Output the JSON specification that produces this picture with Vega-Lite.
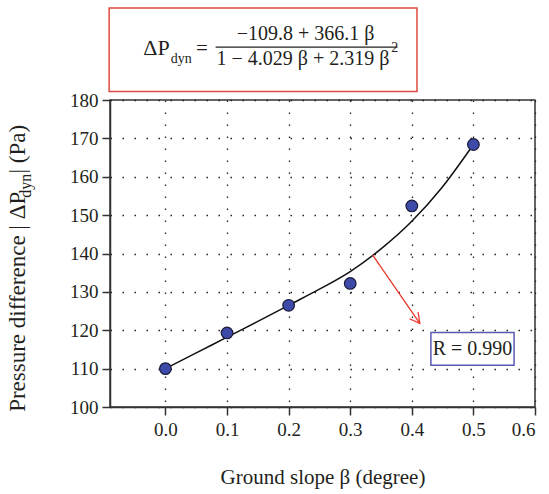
{
  "$schema": "https://vega.github.io/schema/vega-lite/v6.json",
  "width": 425,
  "height": 307,
  "autosize": {"type": "none"},
  "padding": {"left": 110, "top": 100, "right": 14, "bottom": 87},
  "background": "white",
  "config": {
    "view": {"stroke": "#333333", "strokeWidth": 1.5},
    "font": "Liberation Serif"
  },
  "datasets": {
    "points": [
      {"x": 0.0, "y": 110.0},
      {"x": 0.1, "y": 119.3},
      {"x": 0.2, "y": 126.5},
      {"x": 0.3, "y": 132.2},
      {"x": 0.4, "y": 152.4},
      {"x": 0.5, "y": 168.4}
    ],
    "curve": [
      {"x": 0.0, "y": 110.0},
      {"x": 0.05, "y": 114.1},
      {"x": 0.1, "y": 118.2},
      {"x": 0.15, "y": 122.3},
      {"x": 0.2, "y": 126.5},
      {"x": 0.25, "y": 130.7},
      {"x": 0.3, "y": 135.3},
      {"x": 0.35, "y": 141.2},
      {"x": 0.4, "y": 148.4},
      {"x": 0.45, "y": 157.4},
      {"x": 0.5, "y": 168.4}
    ]
  },
  "encoding": {
    "x": {
      "field": "x",
      "type": "quantitative",
      "scale": {"domain": [-0.09, 0.6], "nice": false, "zero": false},
      "axis": {
        "values": [0, 0.1, 0.2, 0.3, 0.4, 0.5, 0.6],
        "format": ".1f",
        "grid": true,
        "gridDash": [1.5, 10.5],
        "gridColor": "#222222",
        "gridWidth": 1.3,
        "domainColor": "#333333",
        "domainWidth": 1.5,
        "tickSize": 8,
        "tickColor": "#333333",
        "tickWidth": 1.5,
        "labelFont": "Liberation Serif",
        "labelFontSize": 19,
        "labelColor": "#231f20",
        "labelPadding": 5,
        "title": "Ground slope β (degree)",
        "titleFont": "Liberation Serif",
        "titleFontSize": 21,
        "titleFontWeight": "normal",
        "titleColor": "#231f20",
        "titlePadding": 27
      }
    },
    "y": {
      "field": "y",
      "type": "quantitative",
      "scale": {"domain": [100, 180], "nice": false, "zero": false},
      "axis": {
        "values": [100, 110, 120, 130, 140, 150, 160, 170, 180],
        "grid": true,
        "gridDash": [1.5, 10.5],
        "gridColor": "#222222",
        "gridWidth": 1.3,
        "domainColor": "#333333",
        "domainWidth": 1.5,
        "tickSize": 8,
        "tickColor": "#333333",
        "tickWidth": 1.5,
        "labelFont": "Liberation Serif",
        "labelFontSize": 19,
        "labelColor": "#231f20",
        "labelPadding": 4,
        "title": null
      }
    }
  },
  "layer": [
    {
      "data": {"values": [{"x": -0.0914, "x2": 0.4084, "y": 182.2, "y2": 204.0}]},
      "mark": {"type": "rect", "fill": "white", "stroke": "#e04a40", "strokeWidth": 1.5},
      "encoding": {"x2": {"field": "x2"}, "y2": {"field": "y2"}}
    },
    {
      "data": {"values": [{"x": 0.0070, "y": 191.7, "label": "ΔP"}]},
      "mark": {"type": "text", "align": "right", "baseline": "alphabetic", "fontSize": 22, "color": "#231f20", "font": "Liberation Serif"},
      "encoding": {"text": {"field": "label"}}
    },
    {
      "data": {"values": [{"x": 0.0495, "y": 191.7, "label": "="}]},
      "mark": {"type": "text", "align": "left", "baseline": "alphabetic", "fontSize": 21, "color": "#231f20", "font": "Liberation Serif"},
      "encoding": {"text": {"field": "label"}}
    },
    {
      "data": {"values": [
        {"x": 0.2274, "y": 195.65, "label": "−109.8 + 366.1 β"},
        {"x": 0.2233, "y": 189.1, "label": "1 − 4.029 β + 2.319 β"}
      ]},
      "mark": {"type": "text", "align": "center", "baseline": "alphabetic", "fontSize": 20, "color": "#231f20", "font": "Liberation Serif"},
      "encoding": {"text": {"field": "label"}}
    },
    {
      "data": {"values": [{"x": 0.0088, "y": 189.7, "label": "dyn"}]},
      "mark": {"type": "text", "align": "left", "baseline": "alphabetic", "fontSize": 14, "color": "#231f20", "font": "Liberation Serif"},
      "encoding": {"text": {"field": "label"}}
    },
    {
      "data": {"values": [{"x": 0.3665, "y": 192.6, "label": "2"}]},
      "mark": {"type": "text", "align": "left", "baseline": "alphabetic", "fontSize": 14, "color": "#231f20", "font": "Liberation Serif"},
      "encoding": {"text": {"field": "label"}}
    },
    {
      "data": {"values": [{"x": 0.0815, "x2": 0.3767, "y": 193.8}]},
      "mark": {"type": "rule", "color": "#231f20", "strokeWidth": 1.3},
      "encoding": {"x2": {"field": "x2"}}
    },
    {
      "data": {"name": "curve"},
      "mark": {"type": "line", "color": "#111111", "strokeWidth": 1.5, "interpolate": "monotone"},
      "encoding": {}
    },
    {
      "data": {"values": [{"x": 0.3365, "y": 139.6, "x2": 0.413, "y2": 121.8}]},
      "mark": {"type": "rule", "color": "#e8392e", "strokeWidth": 1.3},
      "encoding": {"x2": {"field": "x2"}, "y2": {"field": "y2"}}
    },
    {
      "data": {"values": [{"x": 0.413, "y": 121.8}]},
      "mark": {"type": "point", "shape": "M -1 -0.55 L 0 0 L -1 0.55", "filled": false, "stroke": "#e8392e", "strokeWidth": 1.3, "size": 400, "angle": 52.6, "opacity": 1},
      "encoding": {}
    },
    {
      "data": {"values": [{"x": 0.431, "x2": 0.566, "y": 110.9, "y2": 119.4}]},
      "mark": {"type": "rect", "fill": "white", "stroke": "#5a5ab4", "strokeWidth": 1.5},
      "encoding": {"x2": {"field": "x2"}, "y2": {"field": "y2"}}
    },
    {
      "data": {"values": [{"x": 0.4985, "y": 115.15, "label": "R = 0.990"}]},
      "mark": {"type": "text", "align": "center", "baseline": "middle", "fontSize": 20, "color": "#231f20", "font": "Liberation Serif"},
      "encoding": {"text": {"field": "label"}}
    },
    {
      "data": {"name": "points"},
      "mark": {"type": "point", "shape": "circle", "filled": true, "fill": "#3d4aa8", "stroke": "#1a1a3a", "strokeWidth": 1.2, "size": 135, "opacity": 1},
      "encoding": {}
    },
    {
      "data": {"values": [
        {"x": -0.228, "y": 98.73, "label": "Pressure difference | ΔP"},
        {"x": -0.228, "y": 160.82, "label": " | (Pa)"}
      ]},
      "mark": {"type": "text", "angle": -90, "align": "left", "baseline": "alphabetic", "fontSize": 23, "color": "#231f20", "font": "Liberation Serif"},
      "encoding": {"text": {"field": "label"}}
    },
    {
      "data": {"values": [{"x": -0.2175, "y": 154.56, "label": "dyn"}]},
      "mark": {"type": "text", "angle": -90, "align": "left", "baseline": "alphabetic", "fontSize": 16, "color": "#231f20", "font": "Liberation Serif"},
      "encoding": {"text": {"field": "label"}}
    }
  ]
}
